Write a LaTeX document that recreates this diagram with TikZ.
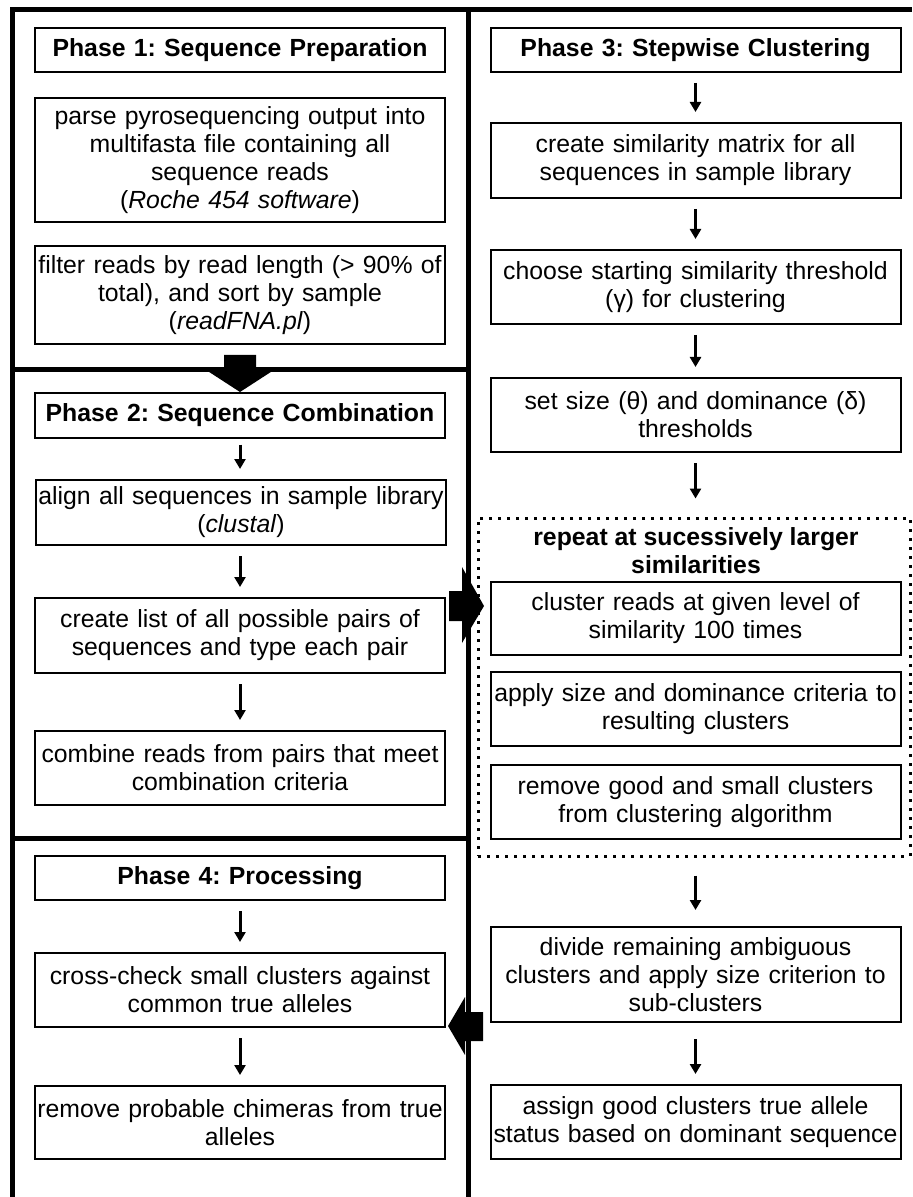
\documentclass[tikz,border=0pt]{standalone}
\usepackage{fontspec}
\setmainfont{Liberation Sans}
\usetikzlibrary{arrows.meta}
\frenchspacing

\tikzset{
  stepbox/.style={draw, line width=1pt, align=center, inner sep=0pt,
    text width=#1, font=\fontsize{12.4}{14}\selectfont},
  stepbox/.default=205pt,
  titlebox/.style={stepbox, font=\fontsize{12.4}{14}\selectfont\bfseries, minimum height=22pt},
  flow/.style={-{Triangle[width=5.5pt,length=5pt]}, line width=1.5pt, shorten <=5pt, shorten >=5pt},
  frame/.style={line width=2.5pt},
  loopbox/.style={draw, line width=1.5pt, dash pattern=on 1.5pt off 3pt, inner sep=0pt},
}

\begin{document}
\begin{tikzpicture}[x=0.5pt,y=-0.5pt]
\useasboundingbox (0,0) rectangle (912,1197);

%% frame
\draw[frame] (12,1197) -- (12,9.5) -- (912,9.5);
\draw[frame] (468,9.5) -- (468,1197);
\draw[frame] (12,370) -- (468,370);
\draw[frame] (12,838) -- (468,838);

%% Phase 1
\node[titlebox] (p1) at (240,50) {Phase 1: Sequence Preparation};
\node[stepbox, minimum height=62pt] (parse) at (240,160) {parse pyrosequencing output into\\multifasta file containing all\\sequence reads\\(\textit{Roche 454 software})};
\node[stepbox, minimum height=49pt] (filter) at (240,295) {filter reads by read length (> 90\% of\\total), and sort by sample\\(\textit{readFNA.pl})};

% into phase 2
\fill (224,355) -- (256,355) -- (256,368) -- (277,368) -- (240,392) -- (203,368) -- (224,368) -- cycle;

%% Phase 2
\node[titlebox] (p2) at (240,415.5) {Phase 2: Sequence Combination};
\node[stepbox, minimum height=32.5pt] (align) at (241,512.5) {align all sequences in sample library\\(\textit{clustal})};
\node[stepbox, minimum height=37.5pt] (pairs) at (240,635.5) {create list of all possible pairs of\\sequences and type each pair};
\node[stepbox, minimum height=37pt] (combine) at (240,768) {combine reads from pairs that meet\\combination criteria};
\draw[flow, shorten <=3pt] (p2.south) -- (p2.south |- align.north);
\draw[flow] (p2.south |- align.south) -- (p2.south |- pairs.north);
\draw[flow] (pairs.south) -- (combine.north);

% into phase 3
\fill (449,591) -- (462,591) -- (462,567) -- (484,606) -- (462,643) -- (462,621) -- (449,621) -- cycle;

%% Phase 4
\node[titlebox] (p4) at (240,878) {Phase 4: Processing};
\node[stepbox, minimum height=37pt] (crosscheck) at (240,990) {cross-check small clusters against\\common true alleles};
\node[stepbox, minimum height=36.5pt] (chimeras) at (240,1122.5) {remove probable chimeras from true\\alleles};
\draw[flow] (p4.south) -- (crosscheck.north);
\draw[flow] (crosscheck.south) -- (chimeras.north);

% into phase 4
\fill (483,1012) -- (483,1041) -- (465,1041) -- (465,1055) -- (448,1026) -- (465,997) -- (465,1012) -- cycle;

%% Phase 3
\node[titlebox] (p3) at (695.5,50) {Phase 3: Stepwise Clustering};
\node[stepbox, minimum height=37.5pt] (simmat) at (695.5,160.5) {create similarity matrix for all\\sequences in sample library};
\node[stepbox, minimum height=37pt] (thresh) at (695.5,287) {choose starting similarity threshold\\(γ) for clustering};
\node[stepbox, minimum height=37pt] (sizedom) at (695.5,415) {set size (θ) and dominance (δ)\\thresholds};

% repeat loop
\node[loopbox, minimum width=216pt, minimum height=169pt] (repeatbox) at (694,687) {};
\node[font=\fontsize{12.4}{14}\selectfont\bfseries, align=center, inner sep=0pt] (repeatlbl) at (696,551) {repeat at sucessively larger\\similarities};
\node[stepbox, minimum height=36.5pt] (cluster) at (695.5,618.5) {cluster reads at given level of\\similarity 100 times};
\node[stepbox, minimum height=37pt] (criteria) at (695.5,709) {apply size and dominance criteria to\\resulting clusters};
\node[stepbox, minimum height=37pt] (removegood) at (695.5,802) {remove good and small clusters\\from clustering algorithm};

\node[stepbox, minimum height=47.5pt] (divide) at (695.5,974.5) {divide remaining ambiguous\\clusters and apply size criterion to\\sub-clusters};
\node[stepbox, minimum height=37pt] (assign) at (695.5,1122) {assign good clusters true allele\\status based on dominant sequence};

\draw[flow] (p3.south) -- (simmat.north);
\draw[flow] (simmat.south) -- (thresh.north);
\draw[flow] (thresh.south) -- (sizedom.north);
\draw[flow, shorten >=9pt] (sizedom.south) -- (sizedom.south |- repeatbox.north);
\draw[flow, shorten <=9pt, shorten >=8pt] (divide.north |- repeatbox.south) -- (divide.north);
\draw[flow, shorten <=8pt] (divide.south) -- (assign.north);

\end{tikzpicture}
\end{document}
